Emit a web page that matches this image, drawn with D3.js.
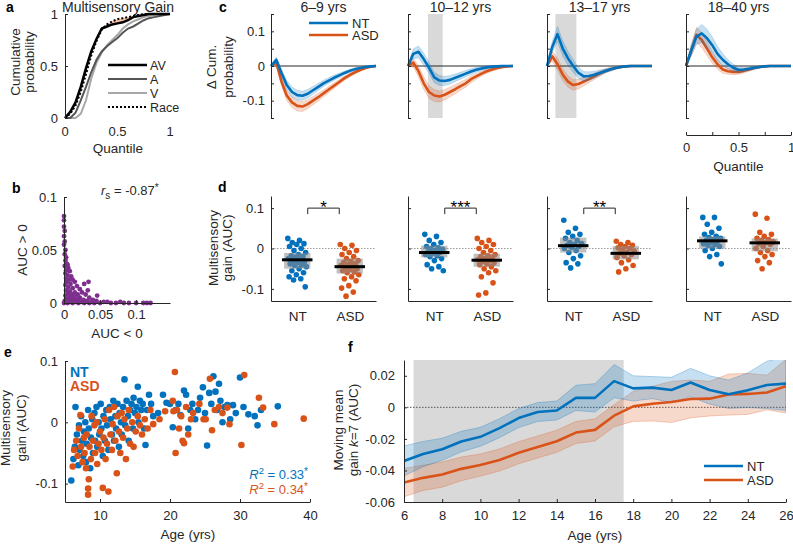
<!DOCTYPE html>
<html><head><meta charset="utf-8">
<script src="https://cdn.jsdelivr.net/npm/d3@7"></script>
<style>body{margin:0;background:#fff}svg text{font-family:"Liberation Sans",Arial,sans-serif}</style>
</head><body><svg id="c" width="793" height="545"></svg>
<script>
// ---------------- DATA ----------------
const quant = [0,0.05,0.1,0.15,0.2,0.25,0.3,0.35,0.4,0.45,0.5,0.55,0.6,0.65,0.7,0.75,0.8,0.85,0.9,0.95,1];
// panel a: cumulative probabilities
const cdfAV   = [0,0.06,0.15,0.3,0.48,0.64,0.76,0.86,0.88,0.9,0.91,0.92,0.94,0.97,0.98,0.99,1,1,1,1,1];
const cdfRace = [0,0.04,0.12,0.25,0.42,0.6,0.74,0.85,0.9,0.93,0.95,0.96,0.97,0.98,0.99,1,1,1,1,1,1];
const cdfA    = [0,0,0.05,0.17,0.3,0.44,0.56,0.64,0.69,0.73,0.77,0.82,0.86,0.88,0.91,0.94,0.96,0.97,0.98,0.99,1];
const cdfV    = [0,0,0,0.04,0.17,0.38,0.53,0.63,0.7,0.75,0.8,0.86,0.9,0.93,0.95,0.97,0.98,0.99,1,1,1];
const legendA = ["AV","A","V","Race"];
// panel b: [AUC<0, AUC>0]
const aucPairs = [[0,0.082],[0,0.078],[0,0.072],[0.001,0.068],[0,0.063],[0.001,0.058],[0,0.055],[0.002,0.05],[0.001,0.046],[0.003,0.043],[0.002,0.04],[0.005,0.036],[0.004,0.037],[0.001,0.035],[0.006,0.033],[0.003,0.031],[0.008,0.03],[0.002,0.028],[0.005,0.026],[0.01,0.025],[0.003,0.023],[0.007,0.022],[0.012,0.022],[0.004,0.02],[0.015,0.02],[0.009,0.018],[0.002,0.017],[0.018,0.016],[0.006,0.015],[0.012,0.014],[0.022,0.013],[0.003,0.012],[0.008,0.011],[0.015,0.01],[0.025,0.01],[0.005,0.009],[0.011,0.008],[0.019,0.008],[0.03,0.008],[0.002,0.007],[0.008,0.006],[0.014,0.006],[0.022,0.005],[0.035,0.005],[0.004,0.004],[0.01,0.004],[0.017,0.004],[0.027,0.003],[0.04,0.003],[0.001,0.002],[0.006,0.002],[0.013,0.002],[0.02,0.002],[0.032,0.002],[0.045,0.002],[0.055,0.001],[0.003,0.001],[0.009,0.001],[0.016,0.001],[0.024,0.001],[0.038,0.001],[0.05,0],[0.06,0.001],[0.065,0],[0.072,0],[0.078,0.001],[0.083,0],[0.09,0],[0.1,0],[0.11,0],[0.115,0],[0.12,0],[0,0],[0.005,0],[0.012,0],[0.02,0],[0.028,0],[0.035,0],[0.042,0],[0.046,0.007],[0.033,0.012],[0.028,0.018],[0.034,0.02]];
const rsValue = "-0.87";
// panel c: delta cumulative probability per age group
const ageGroups = ["6–9 yrs","10–12 yrs","13–17 yrs","18–40 yrs"];
const deltaNT = [
 [0,0.018,-0.02,-0.055,-0.075,-0.084,-0.086,-0.08,-0.07,-0.06,-0.05,-0.042,-0.034,-0.027,-0.02,-0.014,-0.009,-0.006,-0.003,-0.001,0],
 [0,0.035,0.041,0.02,-0.005,-0.033,-0.042,-0.043,-0.04,-0.034,-0.028,-0.022,-0.016,-0.011,-0.007,-0.004,-0.002,-0.001,0,0,0],
 [0,0.055,0.092,0.05,0.022,0,-0.02,-0.03,-0.029,-0.025,-0.02,-0.015,-0.01,-0.006,-0.003,-0.001,0,0,0,0,0],
 [0,0.045,0.085,0.094,0.08,0.06,0.035,0.018,0.005,-0.005,-0.011,-0.01,-0.008,-0.005,-0.003,-0.001,0,0,0,0,0]];
const deltaASD = [
 [0,0.01,-0.045,-0.085,-0.105,-0.115,-0.117,-0.11,-0.1,-0.09,-0.079,-0.068,-0.057,-0.046,-0.035,-0.026,-0.018,-0.012,-0.006,-0.002,0],
 [0,0.01,-0.015,-0.05,-0.075,-0.085,-0.088,-0.083,-0.075,-0.067,-0.058,-0.05,-0.038,-0.03,-0.022,-0.015,-0.01,-0.006,-0.003,-0.001,0],
 [0,0.028,0.005,-0.025,-0.045,-0.055,-0.052,-0.045,-0.038,-0.03,-0.022,-0.015,-0.01,-0.006,-0.003,-0.001,0,0,0,0,0],
 [0,0.045,0.09,0.075,0.05,0.025,0.005,-0.01,-0.015,-0.017,-0.017,-0.014,-0.01,-0.006,-0.003,-0.001,0,0,0,0,0]];
const semNT = [
 [0,0.008,0.011,0.013,0.014,0.014,0.013,0.012,0.011,0.01,0.009,0.008,0.007,0.006,0.005,0.004,0.003,0.002,0.001,0.001,0],
 [0,0.014,0.017,0.017,0.016,0.015,0.014,0.013,0.012,0.011,0.01,0.009,0.008,0.007,0.006,0.005,0.004,0.003,0.002,0.001,0],
 [0,0.016,0.022,0.022,0.02,0.018,0.016,0.014,0.012,0.01,0.008,0.006,0.005,0.004,0.003,0.002,0.001,0.001,0,0,0],
 [0,0.016,0.022,0.026,0.026,0.024,0.021,0.017,0.013,0.01,0.008,0.006,0.005,0.004,0.003,0.002,0.001,0,0,0,0]];
const semASD = [
 [0,0.008,0.012,0.014,0.015,0.015,0.014,0.013,0.012,0.011,0.01,0.009,0.008,0.007,0.006,0.005,0.004,0.003,0.002,0.001,0],
 [0,0.012,0.016,0.018,0.018,0.017,0.016,0.015,0.014,0.013,0.012,0.011,0.01,0.008,0.007,0.006,0.005,0.004,0.003,0.001,0],
 [0,0.014,0.017,0.017,0.016,0.015,0.014,0.012,0.01,0.009,0.008,0.006,0.005,0.004,0.003,0.002,0.001,0.001,0,0,0],
 [0,0.016,0.022,0.022,0.02,0.017,0.014,0.011,0.009,0.008,0.007,0.006,0.005,0.004,0.003,0.002,0.001,0,0,0,0]];
const sigWindow = [null,[0.19,0.33],[0.08,0.28],null];
// panel d: individual gains (AUC) per group
const groups = ["NT","ASD"];
const gainNT = [
 [0.025,0.02,0.015,0.012,0.01,0.005,0,-0.005,-0.01,-0.015,-0.018,-0.02,-0.022,-0.025,-0.028,-0.03,-0.032,-0.035,-0.038,-0.04,-0.042,-0.045,-0.05,-0.055,-0.06,-0.065,-0.07,-0.075,-0.078,-0.095],
 [0.035,0.03,0.02,0.015,0.01,0.005,0.002,0,-0.002,-0.005,-0.008,-0.01,-0.012,-0.015,-0.018,-0.02,-0.025,-0.03,-0.04,-0.045,-0.05,-0.055],
 [0.07,0.05,0.04,0.035,0.03,0.025,0.02,0.015,0.012,0.01,0.008,0.005,0.003,0,-0.005,-0.01,-0.018,-0.025,-0.035,-0.038,-0.048],
 [0.077,0.077,0.06,0.05,0.04,0.035,0.03,0.027,0.025,0.022,0.02,0.018,0.015,0.012,0.01,0.008,0.005,0,-0.005,-0.015,-0.02,-0.038]];
const gainASD = [
 [0.01,0.008,0,-0.005,-0.01,-0.015,-0.02,-0.025,-0.03,-0.032,-0.035,-0.038,-0.04,-0.042,-0.045,-0.048,-0.05,-0.052,-0.055,-0.058,-0.06,-0.065,-0.07,-0.075,-0.08,-0.092,-0.098,-0.108,-0.118],
 [0.025,0.02,0.015,0.01,0.005,0,-0.005,-0.01,-0.015,-0.018,-0.02,-0.022,-0.025,-0.028,-0.03,-0.032,-0.035,-0.038,-0.04,-0.045,-0.05,-0.055,-0.06,-0.07,-0.085,-0.11,-0.115],
 [0.018,0.015,0.01,0.008,0.005,0.002,0,-0.003,-0.006,-0.01,-0.012,-0.015,-0.018,-0.022,-0.028,-0.035,-0.042,-0.05,-0.058],
 [0.085,0.075,0.04,0.035,0.03,0.025,0.022,0.02,0.017,0.015,0.012,0.01,0.005,0,-0.005,-0.01,-0.015,-0.02,-0.03,-0.035,-0.05]];
const meanNT = [-0.028,-0.01,0.007,0.019];
const meanASD = [-0.045,-0.029,-0.012,0.014];
const ciNT = [[-0.05,-0.011],[-0.022,0.007],[-0.01,0.027],[0,0.03]];
const ciASD = [[-0.062,-0.025],[-0.045,-0.013],[-0.027,0.006],[-0.007,0.025]];
const sigStars = ["*","***","**",""];
// panel e: [age, gain]
const ageGainNT = [[5.9,-0.095],[6.2,-0.06],[6.4,-0.04],[6.5,0.025],[6.7,-0.02],[6.9,-0.07],[7,-0.005],[7.1,-0.045],[7.3,0.01],[7.4,-0.03],[7.6,-0.055],[7.7,-0.015],[7.9,0],[8,-0.065],[8.1,-0.035],[8.3,0.02],[8.4,-0.01],[8.6,-0.075],[8.7,-0.025],[8.9,0.005],[9,-0.05],[9.2,0.015],[9.3,-0.03],[9.5,0.025],[9.6,-0.04],[9.8,0],[9.9,-0.02],[10.1,0.03],[10.2,-0.01],[10.4,-0.055],[10.5,0.01],[10.7,-0.03],[10.9,0.02],[11,-0.005],[11.2,-0.045],[11.4,0.025],[11.5,0.005],[11.7,-0.02],[11.9,0.035],[12,-0.03],[12.2,0.01],[12.3,-0.01],[12.5,0.03],[12.7,-0.04],[12.8,0.015],[13,0],[13.1,-0.02],[13.3,0.025],[13.5,0.07],[13.6,-0.005],[13.8,0.035],[14,0.01],[14.1,-0.03],[14.3,0.02],[14.5,0.03],[14.7,-0.01],[14.8,0.04],[15,0.015],[15.2,0.025],[15.4,0.058],[15.5,0],[15.7,0.035],[15.9,0.02],[16.1,0.03],[16.3,-0.01],[16.5,-0.037],[16.7,0.02],[17,0.045],[17.3,0.03],[17.6,0.01],[18.3,0.015],[19,0.045],[19.5,0.032],[20,0.03],[20.4,-0.008],[20.8,0.02],[21.2,0.03],[21.5,0.012],[22,0.052],[22.3,0.045],[22.6,-0.01],[22.9,0.02],[23.2,0.03],[23.6,0.005],[24,0.02],[24.3,0.04],[24.7,0.057],[25,0.015],[25.3,-0.038],[25.6,0.048],[25.9,0.03],[26.2,0.075],[26.5,0.05],[26.7,0.02],[27,0.063],[27.2,0.035],[27.5,0],[27.8,0.025],[28.2,0.028],[28.6,0.005],[29,0.028],[29.4,0.015],[30,0.073],[30.5,0.025],[31.2,0.013],[32.1,0.01],[32.5,-0.005],[33,0.02],[35.4,0.026]];
const ageGainASD = [[6.1,-0.072],[6.3,-0.045],[6.6,-0.03],[6.8,-0.055],[7,-0.01],[7.2,0.012],[7.3,-0.04],[7.5,-0.065],[7.7,-0.025],[7.8,-0.05],[8,-0.075],[8.1,-0.02],[8.3,-0.118],[8.3,-0.108],[8.4,-0.093],[8.5,-0.04],[8.7,-0.06],[8.8,0.01],[9,-0.03],[9.2,-0.005],[9.3,-0.05],[9.5,0],[9.6,-0.068],[9.8,-0.035],[10,-0.015],[10.2,-0.045],[10.4,-0.107],[10.5,-0.025],[10.7,0.005],[10.8,-0.06],[11,-0.035],[11.2,-0.113],[11.3,0.02],[11.5,-0.02],[11.7,-0.045],[11.8,-0.003],[12,0.025],[12.2,-0.03],[12.4,-0.083],[12.5,0.01],[12.7,-0.015],[12.9,-0.05],[13.1,0.015],[13.3,-0.025],[13.5,0.005],[13.7,-0.06],[13.9,-0.01],[14.1,0.02],[14.3,-0.035],[14.6,0],[14.8,-0.04],[15.1,-0.015],[15.4,0.01],[15.7,-0.005],[16,-0.02],[16.4,0.005],[16.8,-0.01],[17.2,0.02],[17.6,-0.003],[18.5,0.005],[19.3,0.018],[20.4,0.035],[20.5,0.018],[20.7,0.082],[20.8,-0.05],[21,0.02],[21.3,-0.01],[21.6,0.01],[21.8,-0.03],[22,-0.034],[22.3,0.025],[22.6,-0.02],[23,0.005],[23.3,0.015],[24.2,0.03],[24.8,0.005],[25.1,0.005],[25.7,0.071],[26,-0.013],[26.4,0.02],[27,0.025],[27.5,0.015],[28.2,0.024],[28.5,-0.003],[30.2,-0.037],[30.6,0.077],[32.7,0.04],[33.3,0.024],[34.9,-0.003],[39.1,0.006]];
const r2Labels = ["0.33","0.34"];
// panel f: moving mean
const ages = [6,7,8,9,10,11,12,13,14,15,16,17,18,19,20,21,22,23,24,25,26];
const mmNT  = [-0.034,-0.0296,-0.0266,-0.0217,-0.0187,-0.0132,-0.0068,-0.003,-0.002,0.006,0.006,0.0166,0.012,0.0125,0.011,0.0157,0.011,0.0083,0.0108,0.0142,0.015];
const mmNTse = [0.0095,0.008,0.007,0.0065,0.006,0.006,0.006,0.006,0.006,0.008,0.009,0.0105,0.008,0.007,0.008,0.009,0.009,0.009,0.011,0.015,0.017];
const mmASD = [-0.0477,-0.0447,-0.0426,-0.039,-0.0366,-0.0334,-0.0288,-0.0251,-0.0215,-0.016,-0.0143,-0.0053,0.0006,0.0023,0.0034,0.0053,0.0055,0.0081,0.0085,0.0094,0.0134];
const mmASDse = [0.009,0.008,0.008,0.0075,0.007,0.007,0.007,0.007,0.007,0.007,0.007,0.007,0.0095,0.011,0.013,0.012,0.011,0.013,0.013,0.011,0.017];
const sigAges = [6.5,17.5];

// ---------------- DRAWING ----------------
const svg = d3.select("#c");
const AX = "#262626", BLUE = "#0072BD", ORANGE = "#D95319", PURPLE = "#7E2F8E";
const FONT = '"Liberation Sans", Arial, sans-serif';
const fmt = d => (+(+d).toFixed(4)).toString();

function styleAx(g, fs) {
  g.attr("font-family", FONT).attr("font-size", fs || 13);
  g.select(".domain").attr("stroke", AX);
  g.selectAll(".tick line").attr("stroke", AX);
  g.selectAll(".tick text").attr("fill", AX);
}
function yAxis(scale, x, ticks, labelFn, pad) {
  const a = d3.axisLeft(scale).tickValues(ticks).tickSizeInner(-3).tickSizeOuter(0).tickPadding(pad || 6).tickFormat(labelFn);
  const g = svg.append("g").attr("transform", `translate(${x},0)`).call(a);
  styleAx(g);
  return g;
}
function xAxis(scale, y, ticks, labelFn, pad) {
  const a = d3.axisBottom(scale).tickValues(ticks).tickSizeInner(-3).tickSizeOuter(0).tickPadding(pad || 6).tickFormat(labelFn);
  const g = svg.append("g").attr("transform", `translate(0,${y})`).call(a);
  styleAx(g);
  return g;
}
function T(x, y, s, o) {
  o = o || {};
  const t = svg.append("text").attr("x", x).attr("y", y).text(s)
    .attr("font-size", o.fs || 13.5).attr("text-anchor", o.anchor || "start").attr("fill", o.fill || AX);
  if (o.bold) t.attr("font-weight", "bold");
  return t;
}
function VT(x, y, s, fs) {
  return svg.append("text").attr("transform", `translate(${x},${y}) rotate(-90)`)
    .attr("text-anchor", "middle").attr("font-size", fs || 13.5).attr("fill", AX).text(s);
}
function letter(x, y, s) { T(x, y, s, {fs: 14, bold: true, fill: "#000"}); }

// ===== Panel a =====
{
  const x = d3.scaleLinear().domain([0, 1]).range([65, 170]);
  const y = d3.scaleLinear().domain([0, 1]).range([118, 14]);
  const rows = quant.map((q, i) => ({q, av: cdfAV[i], race: cdfRace[i], a: cdfA[i], v: cdfV[i]}));
  svg.append("path").datum(rows).attr("fill", "#f4b79a").attr("opacity", 0.85)
    .attr("d", d3.area().x(d => x(d.q)).y0(d => y(d.race)).y1(d => y(d.av)));
  const ln = key => d3.line().x(d => x(d.q)).y(d => y(d[key]));
  const styles = {av: ["#000", 2.5, null], a: ["#555", 2, null], v: ["#a8a8a8", 2, null], race: ["#000", 2, "2,2"]};
  ["v", "a", "av", "race"].forEach(k => {
    svg.append("path").datum(rows).attr("fill", "none").attr("stroke", styles[k][0])
      .attr("stroke-width", styles[k][1]).attr("stroke-dasharray", styles[k][2]).attr("d", ln(k));
  });
  yAxis(y, 65, [0, 0.5, 1], fmt, 7);
  [0, 0.5, 1].forEach(v => T(x(v), 136, fmt(v), {fs: 13, anchor: "middle"}));
  T(118, 153, "Quantile", {anchor: "middle"});
  T(118, 12, "Multisensory Gain", {fs: 14, anchor: "middle"});
  VT(20, 62, "Cumulative");
  VT(34, 62, "probability");
  const ly = [65, 79, 93, 107];
  ["av", "a", "v", "race"].forEach((k, i) => {
    svg.append("line").attr("x1", 108).attr("x2", 147).attr("y1", ly[i]).attr("y2", ly[i])
      .attr("stroke", styles[k][0]).attr("stroke-width", styles[k][1]).attr("stroke-dasharray", styles[k][2]);
    T(150, ly[i] + 4.5, legendA[i], {fs: 12.5});
  });
  letter(6, 12, "a");
}

// ===== Panel b =====
{
  const x = d3.scaleLinear().domain([0, 0.147]).range([64, 170]);
  const y = d3.scaleLinear().domain([0, 0.1]).range([303, 197]);
  svg.append("g").selectAll("circle").data(aucPairs).join("circle")
    .attr("cx", d => x(d[0])).attr("cy", d => y(d[1])).attr("r", 2.4).attr("fill", PURPLE);
  yAxis(y, 64, [0, 0.05, 0.1], fmt, 7);
  xAxis(x, 303, [0, 0.05, 0.1], fmt, 7);
  T(117, 338, "AUC < 0", {anchor: "middle"});
  VT(27, 250, "AUC > 0");
  const t = T(101, 195, "", {fs: 13});
  t.append("tspan").attr("font-style", "italic").text("r");
  t.append("tspan").attr("font-size", 10).attr("dy", 4).text("s");
  t.append("tspan").attr("dy", -4).text(" = " + rsValue);
  t.append("tspan").attr("font-size", 10).attr("dy", -4).text("*");
  letter(12, 193, "b");
}

// ===== Panel c =====
const panelX = [271, 408, 547, 686];
{
  const y = d3.scaleLinear().domain([-0.15, 0.15]).range([118, 14]);
  ageGroups.forEach((lab, gi) => {
    const x = d3.scaleLinear().domain([0, 1]).range([panelX[gi], panelX[gi] + 105]);
    if (sigWindow[gi]) {
      svg.append("rect").attr("x", x(sigWindow[gi][0])).attr("width", x(sigWindow[gi][1]) - x(sigWindow[gi][0]))
        .attr("y", y(0.15)).attr("height", y(-0.15) - y(0.15)).attr("fill", "#d9d9d9");
    }
    svg.append("line").attr("x1", x(0)).attr("x2", x(1)).attr("y1", y(0)).attr("y2", y(0)).attr("stroke", AX).attr("stroke-width", 1);
    [[deltaASD, semASD, ORANGE], [deltaNT, semNT, BLUE]].forEach(([m, s, col]) => {
      const rows = quant.map((q, i) => ({q, m: m[gi][i], s: s[gi][i]}));
      svg.append("path").datum(rows).attr("fill", col).attr("fill-opacity", 0.22)
        .attr("stroke", col).attr("stroke-opacity", 0.25).attr("stroke-width", 0.8)
        .attr("d", d3.area().x(d => x(d.q)).y0(d => y(d.m - d.s)).y1(d => y(d.m + d.s)));
      svg.append("path").datum(rows).attr("fill", "none").attr("stroke", col).attr("stroke-width", 2.6)
        .attr("stroke-linejoin", "round").attr("d", d3.line().x(d => x(d.q)).y(d => y(d.m)));
    });
    yAxis(y, panelX[gi], [-0.15, -0.1, -0.05, 0, 0.05, 0.1, 0.15],
      gi === 0 ? (d => ([-0.1, 0, 0.1].some(v => Math.abs(v - d) < 1e-9) ? fmt(d) : "")) : (() => ""), 6);
    T(x(0.5), 12, lab, {fs: 14, anchor: "middle"});
    if (gi === 3) {
      xAxis(x, 135, [0, 0.25, 0.5, 0.75, 1], d => ([0, 0.5, 1].includes(d) ? fmt(d) : ""), 8);
      T(x(0.5), 171, "Quantile", {anchor: "middle"});
    }
  });
  [[BLUE, "NT", 23], [ORANGE, "ASD", 35]].forEach(([c, s, yy]) => {
    svg.append("line").attr("x1", 309).attr("x2", 348).attr("y1", yy).attr("y2", yy).attr("stroke", c).attr("stroke-width", 2.6);
    T(352, yy + 4.5, s, {fs: 13});
  });
  VT(216, 67, "Δ Cum.");
  VT(233, 67, "probability");
  letter(219, 12, "c");
}

// ===== Panel d =====
{
  const y = d3.scaleLinear().domain([-0.13, 0.13]).range([301, 196]);
  ageGroups.forEach((lab, gi) => {
    const xl = d3.scaleLinear().domain([0.5, 2.5]).range([panelX[gi], panelX[gi] + 105]);
    svg.append("line").attr("x1", xl(0.5)).attr("x2", xl(2.5)).attr("y1", y(0)).attr("y2", y(0))
      .attr("stroke", "#9a9a9a").attr("stroke-dasharray", "1.5,1.5").attr("stroke-width", 1);
    [[gainNT, BLUE, 1, meanNT, ciNT], [gainASD, ORANGE, 2, meanASD, ciASD]].forEach(([vals, col, pos, mean, ci]) => {
      const arr = vals[gi];
      svg.append("g").selectAll("circle").data(arr).join("circle")
        .attr("cx", (d, i) => xl(pos + (((i * 0.618034) % 1) - 0.5) * 0.36))
        .attr("cy", d => y(d)).attr("r", 2.8).attr("fill", col);
      svg.append("rect").attr("x", xl(pos - 0.25)).attr("width", xl(pos + 0.25) - xl(pos - 0.25))
        .attr("y", y(ci[gi][1])).attr("height", y(ci[gi][0]) - y(ci[gi][1])).attr("fill", "#8c8c8c").attr("opacity", 0.55);
      svg.append("line").attr("x1", xl(pos - 0.29)).attr("x2", xl(pos + 0.29)).attr("y1", y(mean[gi])).attr("y2", y(mean[gi]))
        .attr("stroke", "#000").attr("stroke-width", 3);
    });
    yAxis(y, panelX[gi], [-0.1, 0, 0.1], gi === 0 ? fmt : (() => ""), 7);
    const g = svg.append("g").attr("transform", "translate(0,301)")
      .call(d3.axisBottom(xl).tickValues([1, 2]).tickSize(0).tickPadding(10).tickFormat((d, i) => groups[i]));
    styleAx(g, 13.5);
    if (sigStars[gi]) {
      const b1 = xl(1.2), b2 = xl(1.8), by = y(0.1);
      svg.append("path").attr("d", `M${b1},${by + 6}V${by}H${b2}V${by + 6}`).attr("fill", "none").attr("stroke", AX).attr("stroke-width", 1);
      T((b1 + b2) / 2, by + 5, sigStars[gi], {fs: 17, anchor: "middle", fill: "#000"});
    }
  });
  VT(218, 248, "Multisensory");
  VT(232, 248, "gain (AUC)");
  letter(218, 192, "d");
}

// ===== Panel e =====
{
  const x = d3.scaleLinear().domain([5, 40]).range([65, 310]);
  const y = d3.scaleLinear().domain([-0.13, 0.1]).range([502, 361]);
  svg.append("g").selectAll("circle").data(ageGainNT).join("circle")
    .attr("cx", d => x(d[0])).attr("cy", d => y(d[1])).attr("r", 3.3).attr("fill", BLUE);
  svg.append("g").selectAll("circle").data(ageGainASD).join("circle")
    .attr("cx", d => x(d[0])).attr("cy", d => y(d[1])).attr("r", 3.3).attr("fill", ORANGE);
  yAxis(y, 65, [-0.1, 0, 0.1], fmt, 7);
  xAxis(x, 502, [10, 20, 30, 40], fmt, 9);
  T(188, 539, "Age (yrs)", {anchor: "middle"});
  VT(10, 428, "Multisensory");
  VT(26, 428, "gain (AUC)");
  T(70, 377, "NT", {fs: 14, bold: true, fill: BLUE});
  T(70, 391, "ASD", {fs: 14, bold: true, fill: ORANGE});
  [[BLUE, r2Labels[0], 479], [ORANGE, r2Labels[1], 494]].forEach(([c, v, yy]) => {
    const t = T(308, yy, "", {fs: 13, anchor: "end", fill: c});
    t.append("tspan").attr("font-style", "italic").text("R");
    t.append("tspan").attr("font-size", 9.5).attr("dy", -5).text("2");
    t.append("tspan").attr("dy", 5).text(" = " + v);
    t.append("tspan").attr("font-size", 10).attr("dy", -4).text("*");
  });
  letter(4, 357, "e");
}

// ===== Panel f =====
{
  const x = d3.scaleLinear().domain([6, 26]).range([404, 786]);
  const y = d3.scaleLinear().domain([-0.06, 0.03]).range([502, 360]);
  svg.append("defs").append("clipPath").attr("id", "fclip").append("rect")
    .attr("x", 404).attr("y", 360).attr("width", 382).attr("height", 142);
  const gp = svg.append("g").attr("clip-path", "url(#fclip)");
  gp.append("rect").attr("x", x(sigAges[0])).attr("width", x(sigAges[1]) - x(sigAges[0]))
    .attr("y", 360).attr("height", 142).attr("fill", "#d9d9d9");
  gp.append("line").attr("x1", 404).attr("x2", 786).attr("y1", y(0)).attr("y2", y(0))
    .attr("stroke", "#555").attr("stroke-dasharray", "1.5,1.5");
  [[mmASD, mmASDse, ORANGE], [mmNT, mmNTse, BLUE]].forEach(([m, s, col]) => {
    const rows = ages.map((a, i) => ({a, m: m[i], s: s[i]}));
    gp.append("path").datum(rows).attr("fill", col).attr("fill-opacity", 0.22)
      .attr("stroke", col).attr("stroke-opacity", 0.35).attr("stroke-width", 0.8)
      .attr("d", d3.area().x(d => x(d.a)).y0(d => y(d.m - d.s)).y1(d => y(d.m + d.s)));
  });
  [[mmASD, ORANGE], [mmNT, BLUE]].forEach(([m, col]) => {
    gp.append("path").datum(ages.map((a, i) => [a, m[i]])).attr("fill", "none").attr("stroke", col)
      .attr("stroke-width", 2.6).attr("stroke-linejoin", "round").attr("d", d3.line().x(d => x(d[0])).y(d => y(d[1])));
  });
  yAxis(y, 404, [-0.06, -0.04, -0.02, 0, 0.02], fmt, 9);
  xAxis(x, 502, d3.range(6, 27, 2), fmt, 9);
  T(595, 540, "Age (yrs)", {anchor: "middle"});
  VT(343, 430, "Moving mean");
  const t = svg.append("text").attr("transform", "translate(358,430) rotate(-90)")
    .attr("text-anchor", "middle").attr("font-size", 13.5).attr("fill", AX);
  t.append("tspan").text("gain ");
  t.append("tspan").attr("font-style", "italic").text("k");
  t.append("tspan").text("=7 (AUC)");
  [[BLUE, "NT", 466], [ORANGE, "ASD", 480]].forEach(([c, s, yy]) => {
    svg.append("line").attr("x1", 704).attr("x2", 743).attr("y1", yy).attr("y2", yy).attr("stroke", c).attr("stroke-width", 2.6);
    T(747, yy + 4.5, s, {fs: 13});
  });
  letter(348, 352, "f");
}
</script></body></html>
